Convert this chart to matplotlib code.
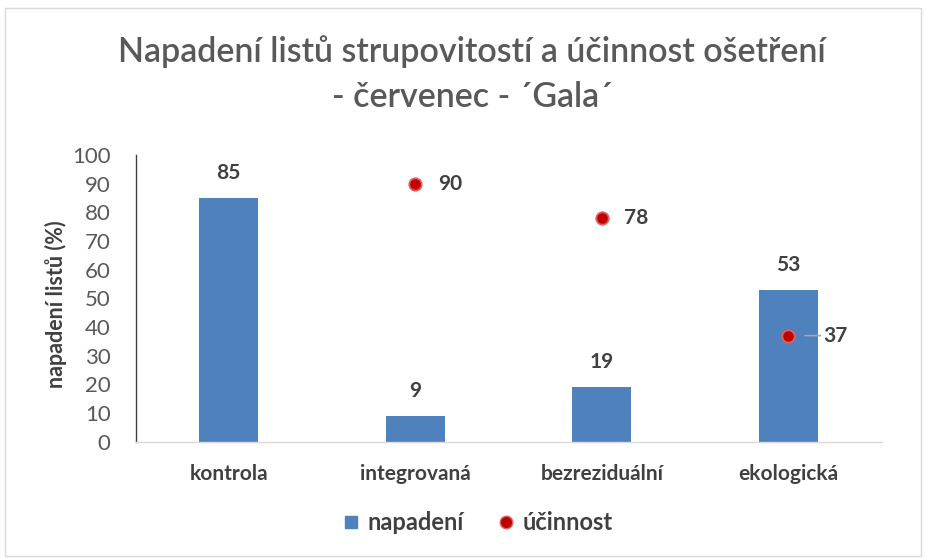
import matplotlib
matplotlib.use("Agg")
import matplotlib.pyplot as plt
from matplotlib.patches import Rectangle
from matplotlib.lines import Line2D
import numpy as np

plt.rcParams['font.family'] = ['Lato', 'DejaVu Sans']

categories = ["kontrola", "integrovaná", "bezreziduální", "ekologická"]
napadeni = [85, 9, 19, 53]
ucinnost = [None, 90, 78, 37]
yticks = [0, 10, 20, 30, 40, 50, 60, 70, 80, 90, 100]

W, H = 926, 558
fig = plt.figure(figsize=(W / 100, H / 100), dpi=100)
fig.patches.append(Rectangle((5 / W, 2 / H), 916 / W, 548 / H, transform=fig.transFigure,
                             fill=False, edgecolor="#D9D9D9", linewidth=1.0))

ax = fig.add_axes([135.5 / W, 1 - 441.7 / H, 746 / W, (441.7 - 155) / H])
x = np.arange(len(categories))
bar_color = "#4F81BD"
ax.bar(x, napadeni, width=0.315, color=bar_color, zorder=2)

ux = [xi for xi, v in zip(x, ucinnost) if v is not None]
uv = [v for v in ucinnost if v is not None]
ax.scatter(ux, uv, s=80, color="#C00000", edgecolors="#E06060", linewidths=1.3, zorder=4)

ax.set_xlim(-0.5, len(categories) - 0.5)
ax.set_ylim(0, 100)
ax.set_yticks(yticks)
ax.set_xticks(x)
ax.set_xticklabels(categories, fontsize=15, fontweight="bold", color="#404040")
ax.tick_params(axis="y", length=0, labelsize=16, labelcolor="#595959", pad=18)
ax.tick_params(axis="x", length=0, pad=16)
for s in ["top", "right"]:
    ax.spines[s].set_visible(False)
ax.spines["left"].set_color("#404040")
ax.spines["left"].set_linewidth(1.0)
ax.spines["bottom"].set_color("#D9D9D9")
ax.spines["bottom"].set_linewidth(1.0)
ax.set_ylabel("napadení listů (%)", fontsize=15.5, fontweight="bold", color="#404040")
ax.yaxis.set_label_coords(-0.092, 0.48)

for xi, v in zip(x, napadeni):
    ax.annotate(f"{v}", (xi, v), xytext=(0, 18), textcoords="offset points",
                ha="center", va="center", fontsize=15, fontweight="bold", color="#404040")

for xi, v in zip(ux, uv):
    if v == 37:
        ax.annotate(f"{v}", (xi, v), xytext=(34, 0), textcoords="offset points",
                    ha="center", va="center", fontsize=15, fontweight="bold", color="#404040",
                    arrowprops=dict(arrowstyle="-", color="#A6A6A6", lw=1.2, shrinkA=0, shrinkB=12),
                    zorder=3)
    else:
        ax.annotate(f"{v}", (xi, v), xytext=(25, 0), textcoords="offset points",
                    ha="center", va="center", fontsize=15, fontweight="bold", color="#404040")

fig.text(472 / W, 1 - 52 / H, "Napadení listů strupovitostí a účinnost ošetření", ha="center", va="center",
         fontsize=24.5, fontweight="semibold", color="#595959")
fig.text(472 / W, 1 - 97 / H, "- červenec - ´Gala´", ha="center", va="center",
         fontsize=24.5, fontweight="semibold", color="#595959")

handles = [Line2D([], [], marker="s", linestyle="none", color=bar_color, markersize=9),
           Line2D([], [], marker="o", linestyle="none", color="#C00000", markeredgecolor="#E06060",
                  markersize=9)]
leg = fig.legend(handles, ["napadení", "účinnost"], loc="center", bbox_to_anchor=(475 / W, 1 - 523 / H),
                 ncol=2, frameon=False, handletextpad=0.1, columnspacing=1.2, handlelength=1.2,
                 prop={"size": 17, "weight": "bold"})
for t in leg.get_texts():
    t.set_color("#404040")

fig.savefig("out.png", dpi=100)
